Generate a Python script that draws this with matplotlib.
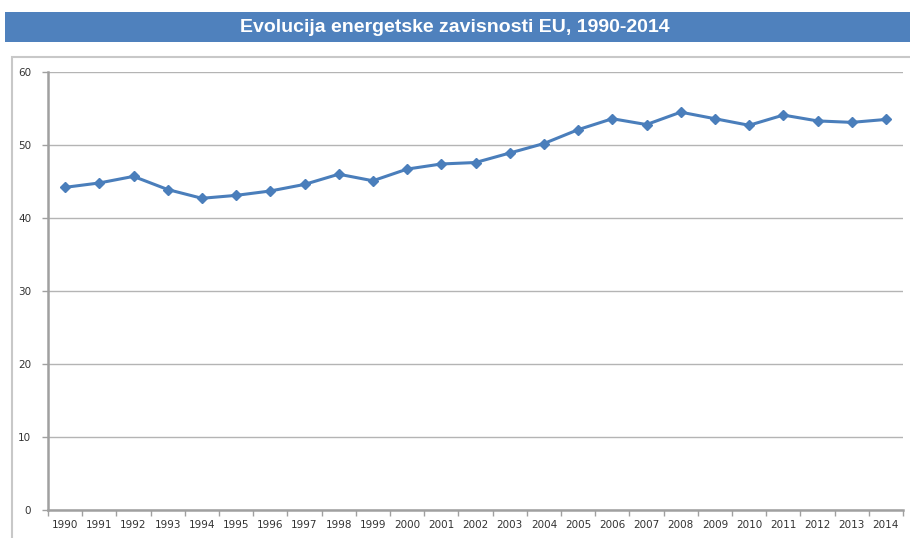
import matplotlib
matplotlib.use("Agg")
import matplotlib.pyplot as plt
from matplotlib.patches import Rectangle

years = [str(y) for y in range(1990, 2015)]
dependence = [44.2, 44.8, 45.7, 43.9, 42.7, 43.1, 43.7, 44.6, 46.0, 45.1,
              46.7, 47.4, 47.6, 48.9, 50.2, 52.1, 53.6, 52.8, 54.5, 53.6,
              52.7, 54.1, 53.3, 53.1, 53.5]
yticks = [0, 10, 20, 30, 40, 50, 60]
title = "Evolucija energetske zavisnosti EU, 1990-2014"

W, H = 910, 538
fig = plt.figure(figsize=(W / 100, H / 100), dpi=100)
fig.patch.set_facecolor("white")

# title banner
fig.patches.append(Rectangle((5 / W, 1 - 42 / H), 905 / W, 30 / H,
                             transform=fig.transFigure, facecolor="#4f81bd",
                             edgecolor="none", zorder=0))
fig.text(0.5, 1 - 27 / H, title, ha="center", va="center", color="white",
         fontsize=14, fontweight="bold",
         family=["Liberation Sans Narrow", "Liberation Sans", "DejaVu Sans"])

# chart frame
fig.patches.append(Rectangle((12 / W, -0.05), 1.0, 1 - 57 / H + 0.05,
                             transform=fig.transFigure, facecolor="none",
                             edgecolor="#c8c8c8", linewidth=1.5, zorder=0))

ax = fig.add_axes([48 / W, 1 - 510 / H, 855 / W, 438 / H])
ax.set_zorder(2)
ax.set_facecolor("none")
x = list(range(len(years)))
ax.plot(x, dependence, color="#4a7ebb", linewidth=2.2, marker="D",
        markersize=5.5, markerfacecolor="#4a7ebb", markeredgecolor="#4a7ebb",
        zorder=3)
ax.set_xlim(-0.5, len(years) - 0.5)
ax.set_ylim(0, 60)
ax.set_yticks(yticks)
ax.set_yticklabels([str(v) for v in yticks])
ax.set_xticks(x)
ax.set_xticklabels(years)
ax.set_xticks([i - 0.5 for i in range(len(years) + 1)], minor=True)
ax.tick_params(axis="x", which="major", length=0, pad=7, labelsize=7.5,
               labelcolor="#333333")
ax.tick_params(axis="x", which="minor", length=4, color="#a0a0a0", width=1)
ax.tick_params(axis="y", length=4, color="#a0a0a0", width=1, pad=8,
               labelsize=7.5, labelcolor="#333333")
ax.grid(axis="y", color="#b4b4b4", linewidth=1)
ax.set_axisbelow(True)
for s in ["top", "right"]:
    ax.spines[s].set_visible(False)
for s in ["left", "bottom"]:
    ax.spines[s].set_color("#a0a0a0")
    ax.spines[s].set_linewidth(1.8)

fig.savefig("out.png", dpi=100)
